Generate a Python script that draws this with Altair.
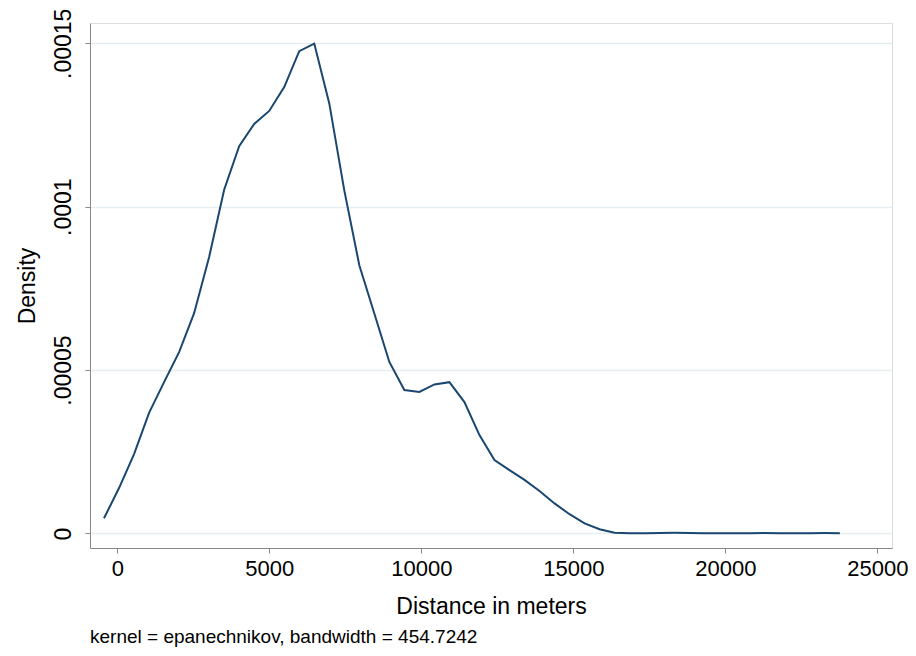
import altair as alt
import pandas as pd

# Kernel density estimate evaluated on Stata's 50-point grid
distance = [-438, 56, 550, 1044, 1538, 2032, 2526, 3020, 3514, 4008,
            4502, 4996, 5490, 5984, 6478, 6972, 7466, 7960, 8454, 8948,
            9442, 9936, 10430, 10924, 11418, 11912, 12406, 12900, 13394, 13888,
            14382, 14876, 15370, 15864, 16358, 16852, 17346, 17840, 18334, 18828,
            19322, 19816, 20310, 20804, 21298, 21792, 22286, 22780, 23274, 23768]
density = [4.65e-06, 1.39e-05, 2.43e-05, 3.69e-05, 4.63e-05, 5.55e-05, 6.74e-05, 8.46e-05, 1.052e-04, 1.185e-04,
           1.253e-04, 1.293e-04, 1.366e-04, 1.476e-04, 1.499e-04, 1.316e-04, 1.050e-04, 8.21e-05, 6.73e-05, 5.25e-05,
           4.39e-05, 4.33e-05, 4.56e-05, 4.63e-05, 4.02e-05, 3.01e-05, 2.25e-05, 1.94e-05, 1.64e-05, 1.30e-05,
           9.2e-06, 5.9e-06, 3.1e-06, 1.3e-06, 2.0e-07, 5e-08, 1e-07, 1.5e-07, 2e-07, 1.5e-07,
           1e-07, 5e-08, 5e-08, 1e-07, 1.5e-07, 1e-07, 5e-08, 1e-07, 1.5e-07, 1e-07]

x_ticks = [0, 5000, 10000, 15000, 20000, 25000]
y_ticks = [0, 0.00005, 0.0001, 0.00015]
y_tick_labels = ["0", ".00005", ".0001", ".00015"]
x_title = "Distance in meters"
y_title = "Density"
note = "kernel = epanechnikov, bandwidth = 454.7242"

df = pd.DataFrame({"distance": distance, "density": density})

y_label_expr = " : ".join(
    f"datum.value == {v!r} ? '{lab}'" for v, lab in zip(y_ticks, y_tick_labels)
) + " : ''"

FONT = "Liberation Sans"

chart = (
    alt.Chart(df)
    .mark_line(color="#1a476f", strokeWidth=2)
    .encode(
        x=alt.X(
            "distance:Q",
            scale=alt.Scale(domain=[-899, 25483], nice=False, zero=False),
            axis=alt.Axis(
                title=x_title,
                values=x_ticks,
                format="d",
                grid=False,
                labelFontSize=22,
                titleFontSize=23,
                titleFontWeight="normal",
                labelPadding=5,
                titlePadding=16,
            ),
        ),
        y=alt.Y(
            "density:Q",
            scale=alt.Scale(domain=[-0.00000444, 0.00015621], nice=False, zero=False),
            axis=alt.Axis(
                title=y_title,
                values=y_ticks,
                labelExpr=y_label_expr,
                labelAngle=-90,
                labelAlign="center",
                labelBaseline="bottom",
                grid=True,
                gridColor="#e6edf1",
                gridWidth=1.5,
                labelFontSize=23,
                titleFontSize=23,
                titleFontWeight="normal",
                labelPadding=10,
                titlePadding=13,
            ),
        ),
    )
    .properties(
        width=802,
        height=525,
        autosize=alt.AutoSizeParams(type="none"),
        padding={"left": 82, "top": 15, "right": 16, "bottom": 100},
        title=alt.Title(
            note,
            orient="bottom",
            anchor="start",
            frame="group",
            fontSize=19,
            font=FONT,
            fontWeight="normal",
            color="black",
            offset=10,
        ),
    )
    .configure_view(stroke=None)
    .configure_axis(
        labelFont=FONT,
        titleFont=FONT,
        titleFontWeight="normal",
        labelColor="black",
        titleColor="black",
        domainColor="black",
        domainWidth=1.5,
        tickColor="black",
        tickWidth=1.5,
        tickSize=9,
        labelFlush=False,
        labelOverlap=False,
    )
    .configure(background="white")
)

chart.save("out.html", embed_options={"renderer": "svg", "actions": False})
